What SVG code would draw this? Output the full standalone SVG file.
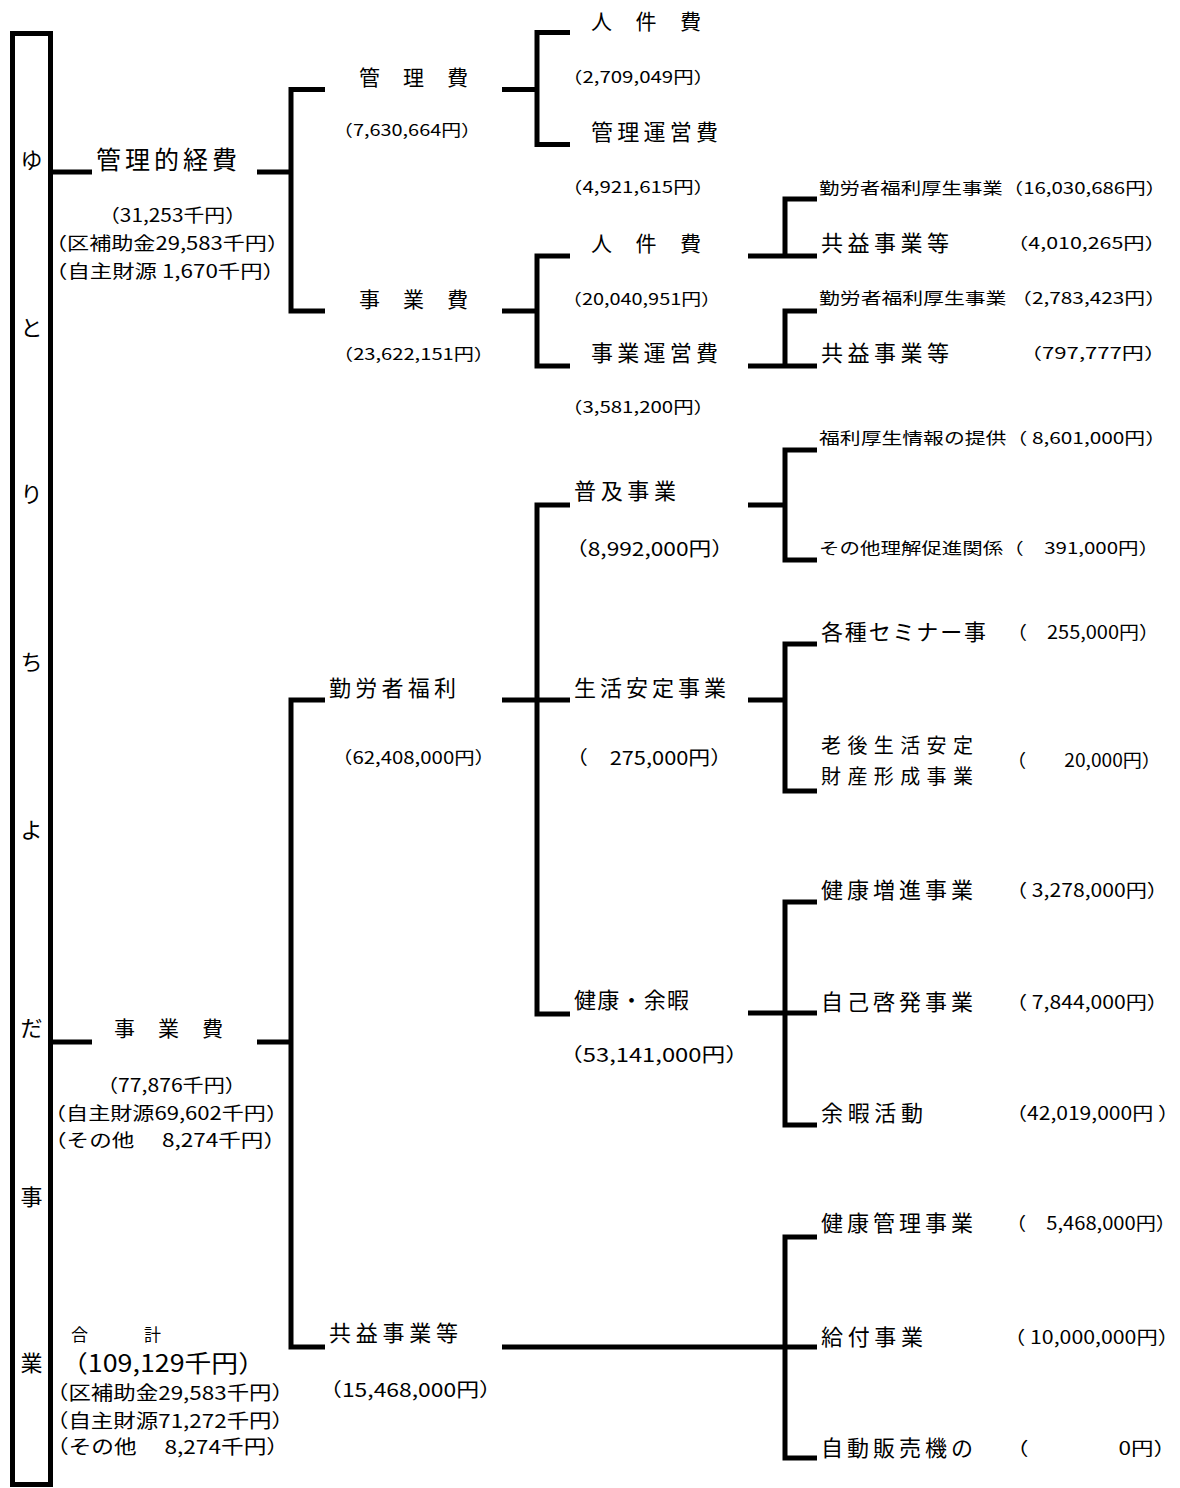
<svg xmlns="http://www.w3.org/2000/svg" width="1180" height="1488" viewBox="0 0 1180 1488">
<style>
text{font-family:"Noto Sans CJK JP","Noto Sans",sans-serif;fill:#000}
.v{font-size:22px;text-anchor:middle}
.L{font-size:22px}
.M{font-size:21px}
.s{font-size:16px}
.m{font-size:18px}
.n{font-size:19px}
.c{fill:none;stroke:#000;stroke-width:5;stroke-linejoin:miter;stroke-linecap:butt}
</style>
<rect x="0" y="0" width="1180" height="1488" fill="#fff"/>
<g id="frame">
<rect x="12.5" y="33.5" width="38" height="1451" class="c"/>
<text class="v" x="31.5" y="168">ゆ</text>
<text class="v" x="31.5" y="336">と</text>
<text class="v" x="31.5" y="502">り</text>
<text class="v" x="31.5" y="670">ち</text>
<text class="v" x="31.5" y="838">よ</text>
<text class="v" x="31.5" y="1036">だ</text>
<text class="v" x="31.5" y="1205">事</text>
<text class="v" x="31.5" y="1371">業</text>
</g>
<g id="connectors">
<path class="c" d="M52 172H92M257 172H291"/>
<path class="c" d="M325 89.5H291V311H325"/>
<path class="c" d="M502 89.5H537M570 32.5H537V144.5H570"/>
<path class="c" d="M502 311H537M570 256H537V366H570"/>
<path class="c" d="M748 256H817M785 256V199H817"/>
<path class="c" d="M748 366H817M785 366V311H817"/>
<path class="c" d="M52 1042H92M257 1042H291"/>
<path class="c" d="M325 700H291V1347H325"/>
<path class="c" d="M502 700H570M570 505H537V1014H570"/>
<path class="c" d="M748 505H785M817 450H785V560H817"/>
<path class="c" d="M748 700H785M817 644H785V791H817"/>
<path class="c" d="M748 1013H817M817 902H785V1125H817"/>
<path class="c" d="M502 1347H817M817 1237H785V1458H817"/>
</g>
<g id="kanriteki">
<text x="96" y="169" style="font-size:25px" textLength="141">管理的経費</text>
<text class="m" x="99" y="222" textLength="147" lengthAdjust="spacingAndGlyphs">（31,253千円）</text>
<text class="m" x="45" y="250" textLength="244" lengthAdjust="spacingAndGlyphs">（区補助金29,583千円）</text>
<text class="m" x="45" y="278" textLength="240" lengthAdjust="spacingAndGlyphs">（自主財源 1,670千円）</text>
</g>
<g id="kanrihi">
<text class="M" x="359" y="85" textLength="109">管 理 費</text>
<text class="s" x="333" y="136" textLength="148" lengthAdjust="spacingAndGlyphs">（7,630,664円）</text>
</g>
<g id="jinkenhi1">
<text class="M" x="591" y="29" textLength="110">人 件 費</text>
<text class="s" x="562" y="83" textLength="152" lengthAdjust="spacingAndGlyphs">（2,709,049円）</text>
</g>
<g id="kanriunei">
<text class="L" x="591" y="140" textLength="127">管理運営費</text>
<text class="s" x="562" y="193" textLength="152" lengthAdjust="spacingAndGlyphs">（4,921,615円）</text>
</g>
<g id="jigyohi1">
<text class="M" x="359" y="307" textLength="109">事 業 費</text>
<text class="s" x="333" y="360" textLength="161" lengthAdjust="spacingAndGlyphs">（23,622,151円）</text>
</g>
<g id="jinkenhi2">
<text class="M" x="591" y="251" textLength="110">人 件 費</text>
<text class="s" x="562" y="305" textLength="159" lengthAdjust="spacingAndGlyphs">（20,040,951円）</text>
</g>
<g id="jigyounei">
<text class="L" x="591" y="361" textLength="127">事業運営費</text>
<text class="s" x="562" y="413" textLength="152" lengthAdjust="spacingAndGlyphs">（3,581,200円）</text>
</g>
<g id="r1a"><text class="s" x="819" y="194" textLength="347" lengthAdjust="spacingAndGlyphs">勤労者福利厚生事業（16,030,686円）</text></g>
<g id="r1b">
<text class="L" x="821" y="251" textLength="128">共益事業等</text>
<text class="s" x="1007" y="249" textLength="159" lengthAdjust="spacingAndGlyphs">（4,010,265円）</text>
</g>
<g id="r2a"><text class="s" x="819" y="304" textLength="347" lengthAdjust="spacingAndGlyphs">勤労者福利厚生事業 （2,783,423円）</text></g>
<g id="r2b">
<text class="L" x="821" y="361" textLength="128">共益事業等</text>
<text class="s" x="1020" y="359" textLength="146" lengthAdjust="spacingAndGlyphs">（797,777円）</text>
</g>
<g id="jigyohi2">
<text class="M" x="114" y="1036" textLength="109">事 業 費</text>
<text class="m" x="97" y="1092" textLength="149" lengthAdjust="spacingAndGlyphs">（77,876千円）</text>
<text class="m" x="44" y="1120" textLength="244" lengthAdjust="spacingAndGlyphs">（自主財源69,602千円）</text>
<text class="m" x="44" y="1147" textLength="242" lengthAdjust="spacingAndGlyphs">（その他　 8,274千円）</text>
</g>
<g id="total">
<text style="font-size:17px" x="71" y="1341" textLength="90">合　　計</text>
<text style="font-size:24px" x="61" y="1372" textLength="204" lengthAdjust="spacingAndGlyphs">（109,129千円）</text>
<text class="n" x="46" y="1400" textLength="248" lengthAdjust="spacingAndGlyphs">（区補助金29,583千円）</text>
<text class="n" x="46" y="1428" textLength="248" lengthAdjust="spacingAndGlyphs">（自主財源71,272千円）</text>
<text class="n" x="46" y="1454" textLength="243" lengthAdjust="spacingAndGlyphs">（その他　 8,274千円）</text>
</g>
<g id="kinrosha">
<text class="L" x="329" y="696" textLength="127">勤労者福利</text>
<text style="font-size:17px" x="332" y="764" textLength="163" lengthAdjust="spacingAndGlyphs">（62,408,000円）</text>
</g>
<g id="fukyu">
<text class="L" x="574" y="499" textLength="102">普及事業</text>
<text class="n" x="565" y="556" textLength="169" lengthAdjust="spacingAndGlyphs">（8,992,000円）</text>
</g>
<g id="seikatsu">
<text class="L" x="574" y="696" textLength="152">生活安定事業</text>
<text class="n" x="566" y="765" textLength="166" lengthAdjust="spacingAndGlyphs">（　275,000円）</text>
</g>
<g id="kenko">
<text class="L" x="574" y="1008" textLength="115">健康・余暇</text>
<text class="n" x="559" y="1062" textLength="190" lengthAdjust="spacingAndGlyphs">（53,141,000円）</text>
</g>
<g id="kyoeki">
<text class="L" x="329" y="1341" textLength="129">共益事業等</text>
<text class="n" x="319" y="1397" textLength="183" lengthAdjust="spacingAndGlyphs">（15,468,000円）</text>
</g>
<g id="fukuri"><text class="s" x="819" y="444" textLength="347" lengthAdjust="spacingAndGlyphs">福利厚生情報の提供（ 8,601,000円）</text></g>
<g id="sonota"><text class="s" x="819" y="554" textLength="340" lengthAdjust="spacingAndGlyphs">その他理解促進関係（　391,000円）</text></g>
<g id="seminar">
<text class="L" x="821" y="640" textLength="165">各種セミナー事</text>
<text class="m" x="1007" y="639" textLength="152" lengthAdjust="spacingAndGlyphs">（　255,000円）</text>
</g>
<g id="rougo">
<text style="font-size:20px" x="821" y="753" textLength="152">老後生活安定</text>
<text style="font-size:20px" x="821" y="784" textLength="152">財産形成事業</text>
<text class="m" x="1007" y="767" textLength="154" lengthAdjust="spacingAndGlyphs">（　　20,000円）</text>
</g>
<g id="zoshin">
<text class="L" x="821" y="898" textLength="152">健康増進事業</text>
<text class="m" x="1006" y="897" textLength="162" lengthAdjust="spacingAndGlyphs">（ 3,278,000円）</text>
</g>
<g id="keihatsu">
<text class="L" x="821" y="1010" textLength="152">自己啓発事業</text>
<text class="m" x="1006" y="1009" textLength="162" lengthAdjust="spacingAndGlyphs">（ 7,844,000円）</text>
</g>
<g id="yoka">
<text class="L" x="821" y="1121" textLength="102">余暇活動</text>
<text class="m" x="1006" y="1120" textLength="173" lengthAdjust="spacingAndGlyphs">（42,019,000円 ）</text>
</g>
<g id="kanrijigyo">
<text class="L" x="821" y="1231" textLength="152">健康管理事業</text>
<text class="m" x="1006" y="1230" textLength="170" lengthAdjust="spacingAndGlyphs">（　5,468,000円）</text>
</g>
<g id="kyufu">
<text class="L" x="821" y="1345" textLength="102">給付事業</text>
<text class="m" x="1004" y="1344" textLength="175" lengthAdjust="spacingAndGlyphs">（ 10,000,000円）</text>
</g>
<g id="jihanki">
<text class="L" x="821" y="1456" textLength="152">自動販売機の</text>
<text class="m" x="1006" y="1455" textLength="170" lengthAdjust="spacingAndGlyphs">（　　　　0円）</text>
</g>
</svg>
